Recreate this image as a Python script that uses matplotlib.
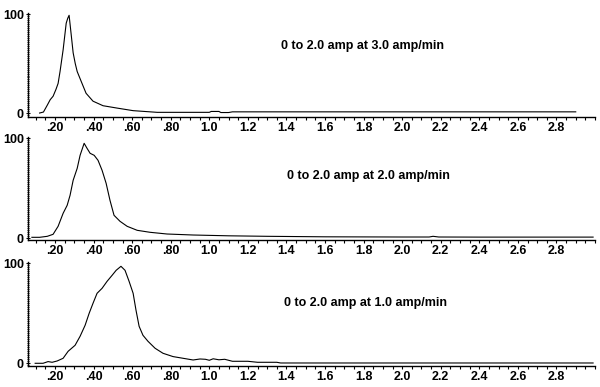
import matplotlib
matplotlib.use("Agg")
import matplotlib.pyplot as plt
from matplotlib.ticker import FixedLocator, MultipleLocator

# ---- data ----
x1 = [0.12, 0.14, 0.16, 0.175, 0.19, 0.205, 0.216, 0.226, 0.242, 0.258, 0.266, 0.273,
      0.283, 0.294, 0.305, 0.315, 0.34, 0.361, 0.397, 0.449, 0.522, 0.605, 0.73, 0.9,
      1.0, 1.01, 1.05, 1.06, 1.1, 1.12, 1.5, 2.0, 2.5, 2.9]
y1 = [0, 1, 8, 13.5, 17, 24, 30, 42, 64, 91, 96, 99,
      81, 61, 50, 42, 30, 20, 12, 7.4, 5, 2.4, 0.7, 0.7,
      0.7, 1.6, 1.6, 0.5, 0.5, 1.2, 1.2, 1.2, 1.2, 1.2]

x2 = [0.08, 0.12, 0.16, 0.19, 0.216, 0.242, 0.263, 0.278, 0.294, 0.315, 0.33, 0.351,
      0.366, 0.382, 0.403, 0.423, 0.444, 0.465, 0.485, 0.506, 0.537, 0.574, 0.626,
      0.693, 0.781, 0.916, 1.1, 1.3, 1.6, 2.0, 2.14, 2.16, 2.19, 2.4, 2.99]
y2 = [1, 1, 2, 4, 12, 25, 33, 43, 58, 70, 83, 95,
      90, 85, 83, 78, 68, 55, 38, 23, 17, 12, 8,
      6, 4.3, 3.3, 2.5, 2, 1.5, 1.3, 1.3, 2, 1.3, 1.2, 1.2]

x3 = [0.097, 0.138, 0.164, 0.185, 0.211, 0.242, 0.268, 0.304, 0.33, 0.356, 0.377, 0.397,
      0.418, 0.444, 0.47, 0.496, 0.517, 0.542, 0.563, 0.584, 0.605, 0.62, 0.636, 0.656,
      0.682, 0.719, 0.76, 0.812, 0.864, 0.916, 0.952, 0.98, 1.0, 1.02, 1.05, 1.08,
      1.12, 1.2, 1.25, 1.35, 1.37, 2.99]
y3 = [0, 0, 1.7, 1, 2.3, 5, 12, 18, 27, 38, 50, 60,
      70, 75, 82, 88, 93, 97, 93, 82, 70, 53, 37, 28,
      22, 15, 10, 6.7, 5, 3.3, 4.3, 4, 3, 4.5, 3.5, 4,
      2, 2, 1, 1, 0.3, 0.3]

labels = ["0 to 2.0 amp at 3.0 amp/min",
          "0 to 2.0 amp at 2.0 amp/min",
          "0 to 2.0 amp at 1.0 amp/min"]

xtick_vals = [0.2, 0.4, 0.6, 0.8, 1.0, 1.2, 1.4, 1.6, 1.8, 2.0, 2.2, 2.4, 2.6, 2.8]
xtick_labels = [".20", ".40", ".60", ".80", "1.0", "1.2", "1.4", "1.6", "1.8",
                "2.0", "2.2", "2.4", "2.6", "2.8"]
ytick_vals = [0, 100]
ytick_labels = ["0", "100"]

plt.rcParams['font.family'] = ['Liberation Sans', 'DejaVu Sans']
plt.rcParams['font.weight'] = 'bold'

fig = plt.figure(figsize=(6.0, 3.87), dpi=100)

# [left, bottom, width, height], ylim bottom, text position
panels = [
    ([0.0467, 0.6985, 0.945, 0.2671], -3.7, (0.59, 0.68)),
    ([0.0467, 0.3806, 0.945, 0.2646], -1.4, (0.60, 0.62)),
    ([0.0467, 0.0543, 0.945, 0.2679], -2.7, (0.595, 0.61)),
]
series = [(x1, y1), (x2, y2), (x3, y3)]

for (rect, ybot, tpos), (xs, ys), lab in zip(panels, series, labels):
    ax = fig.add_axes(rect)
    ax.plot(xs, ys, color='black', lw=0.8)
    ax.set_xlim(0.06, 3.0)
    ax.set_ylim(ybot, 101)
    for s in ('top', 'right'):
        ax.spines[s].set_visible(False)
    for s in ('left', 'bottom'):
        ax.spines[s].set_linewidth(1.0)
    ax.xaxis.set_major_locator(FixedLocator(xtick_vals))
    ax.set_xticklabels(xtick_labels, fontsize=9, fontweight='bold')
    ax.xaxis.set_minor_locator(MultipleLocator(0.05))
    ax.yaxis.set_major_locator(FixedLocator(ytick_vals))
    ax.set_yticklabels(ytick_labels, fontsize=9, fontweight='bold')
    ax.yaxis.set_minor_locator(MultipleLocator(2))
    ax.tick_params(axis='x', which='both', direction='out', length=2.2, width=0.8, pad=1.5)
    ax.tick_params(axis='y', which='major', direction='inout', length=3, width=0.8, pad=1.5)
    ax.tick_params(axis='y', which='minor', direction='inout', length=2, width=0.6)
    ax.text(tpos[0], tpos[1], lab, transform=ax.transAxes, ha='center', va='center',
            fontsize=9, fontweight='bold')

fig.savefig("out.png", dpi=100)
